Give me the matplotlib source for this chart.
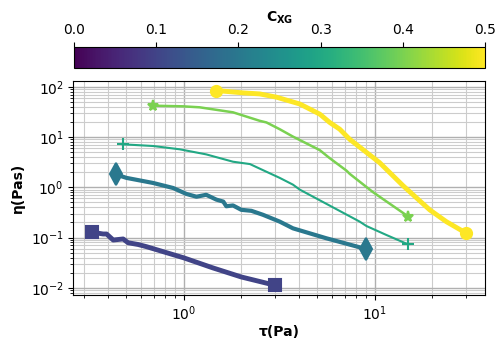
import matplotlib
matplotlib.use("Agg")
import matplotlib.pyplot as plt
import numpy as np

# concentration of each series
conc = [0.1, 0.2, 0.3, 0.4, 0.5]
markers = ['s', 'd', '+', '*', 'o']
widths = [3.5, 3.0, 1.5, 1.8, 3.5]

tau_01 = [0.331, 0.378, 0.394, 0.427, 0.481, 0.511, 0.576, 0.638, 1.0, 1.42, 2.0, 3.0]
eta_01 = [0.128, 0.118, 0.118, 0.0895, 0.094, 0.079, 0.073, 0.066, 0.0396, 0.025, 0.0165, 0.0113]

tau_02 = [0.441, 0.501, 0.691, 0.879, 1.03, 1.165, 1.31, 1.48, 1.61, 1.67, 1.81, 2.0,
          2.26, 2.60, 3.18, 3.73, 5.58, 9.05]
eta_02 = [1.80, 1.54, 1.22, 0.97, 0.74, 0.65, 0.71, 0.57, 0.52, 0.42, 0.436, 0.357,
          0.341, 0.284, 0.208, 0.153, 0.097, 0.059]

tau_03 = [0.478, 0.691, 0.953, 1.31, 1.81, 2.22, 2.5, 3.18, 3.73, 4.05, 5.58, 8.34, 9.05, 11.5, 15.0]
eta_03 = [7.17, 6.63, 5.7, 4.52, 3.23, 2.9, 2.35, 1.54, 1.13, 0.90, 0.47, 0.208, 0.17, 0.113, 0.073]

tau_04 = [0.686, 0.99, 1.21, 1.81, 2.5, 2.71, 3.18, 3.73, 5.15, 5.81, 7.11, 7.4, 9.8, 15.0]
eta_04 = [42, 40.8, 39, 31, 21, 19.5, 14.3, 10.2, 5.5, 3.8, 2.15, 1.85, 0.8, 0.262]

tau_05 = [1.48, 2.05, 2.5, 3.06, 4.05, 5.15, 5.81, 6.56, 7.4, 10.6, 14.1, 19.4, 23.7, 30.2]
eta_05 = [84, 75.5, 72, 62, 45.4, 28.6, 19.5, 14.3, 9.0, 3.1, 1.07, 0.357, 0.208, 0.122]

taus = [tau_01, tau_02, tau_03, tau_04, tau_05]
etas = [eta_01, eta_02, eta_03, eta_04, eta_05]

cmap = plt.get_cmap('viridis')
norm = matplotlib.colors.Normalize(vmin=0.0, vmax=0.5)

fig = plt.figure(figsize=(4.96, 3.41), dpi=100)
ax = fig.add_axes([0.148, 0.135, 0.830, 0.628])
cax = fig.add_axes([0.149, 0.800, 0.829, 0.063])

for c, m, lw, t, e in zip(conc, markers, widths, taus, etas):
    col = cmap(norm(c))
    ax.plot(t, e, color=col, linewidth=lw)
    ms = 11 if m == 'd' else 8
    ax.plot([t[0], t[-1]], [e[0], e[-1]], linestyle='none', marker=m,
            color=col, markersize=ms, markeredgewidth=1.5)

ax.set_xscale('log')
ax.set_yscale('log')
ax.grid(True, which='major', color='#b0b0b0', linewidth=1.0)
ax.grid(True, which='minor', color='#cccccc', linewidth=0.8)
ax.set_xlabel('τ(Pa)', fontweight='bold', labelpad=1)
ax.set_ylabel('η(Pas)', fontweight='bold')

sm = matplotlib.cm.ScalarMappable(norm=norm, cmap=cmap)
cb = fig.colorbar(sm, cax=cax, orientation='horizontal')
cb.set_ticks([0.0, 0.1, 0.2, 0.3, 0.4, 0.5])
cax.xaxis.set_ticks_position('top')
cax.xaxis.set_label_position('top')
cb.set_label(r'$\mathbf{C_{XG}}$', fontweight='bold', labelpad=1)

fig.savefig('out.png', dpi=100)
